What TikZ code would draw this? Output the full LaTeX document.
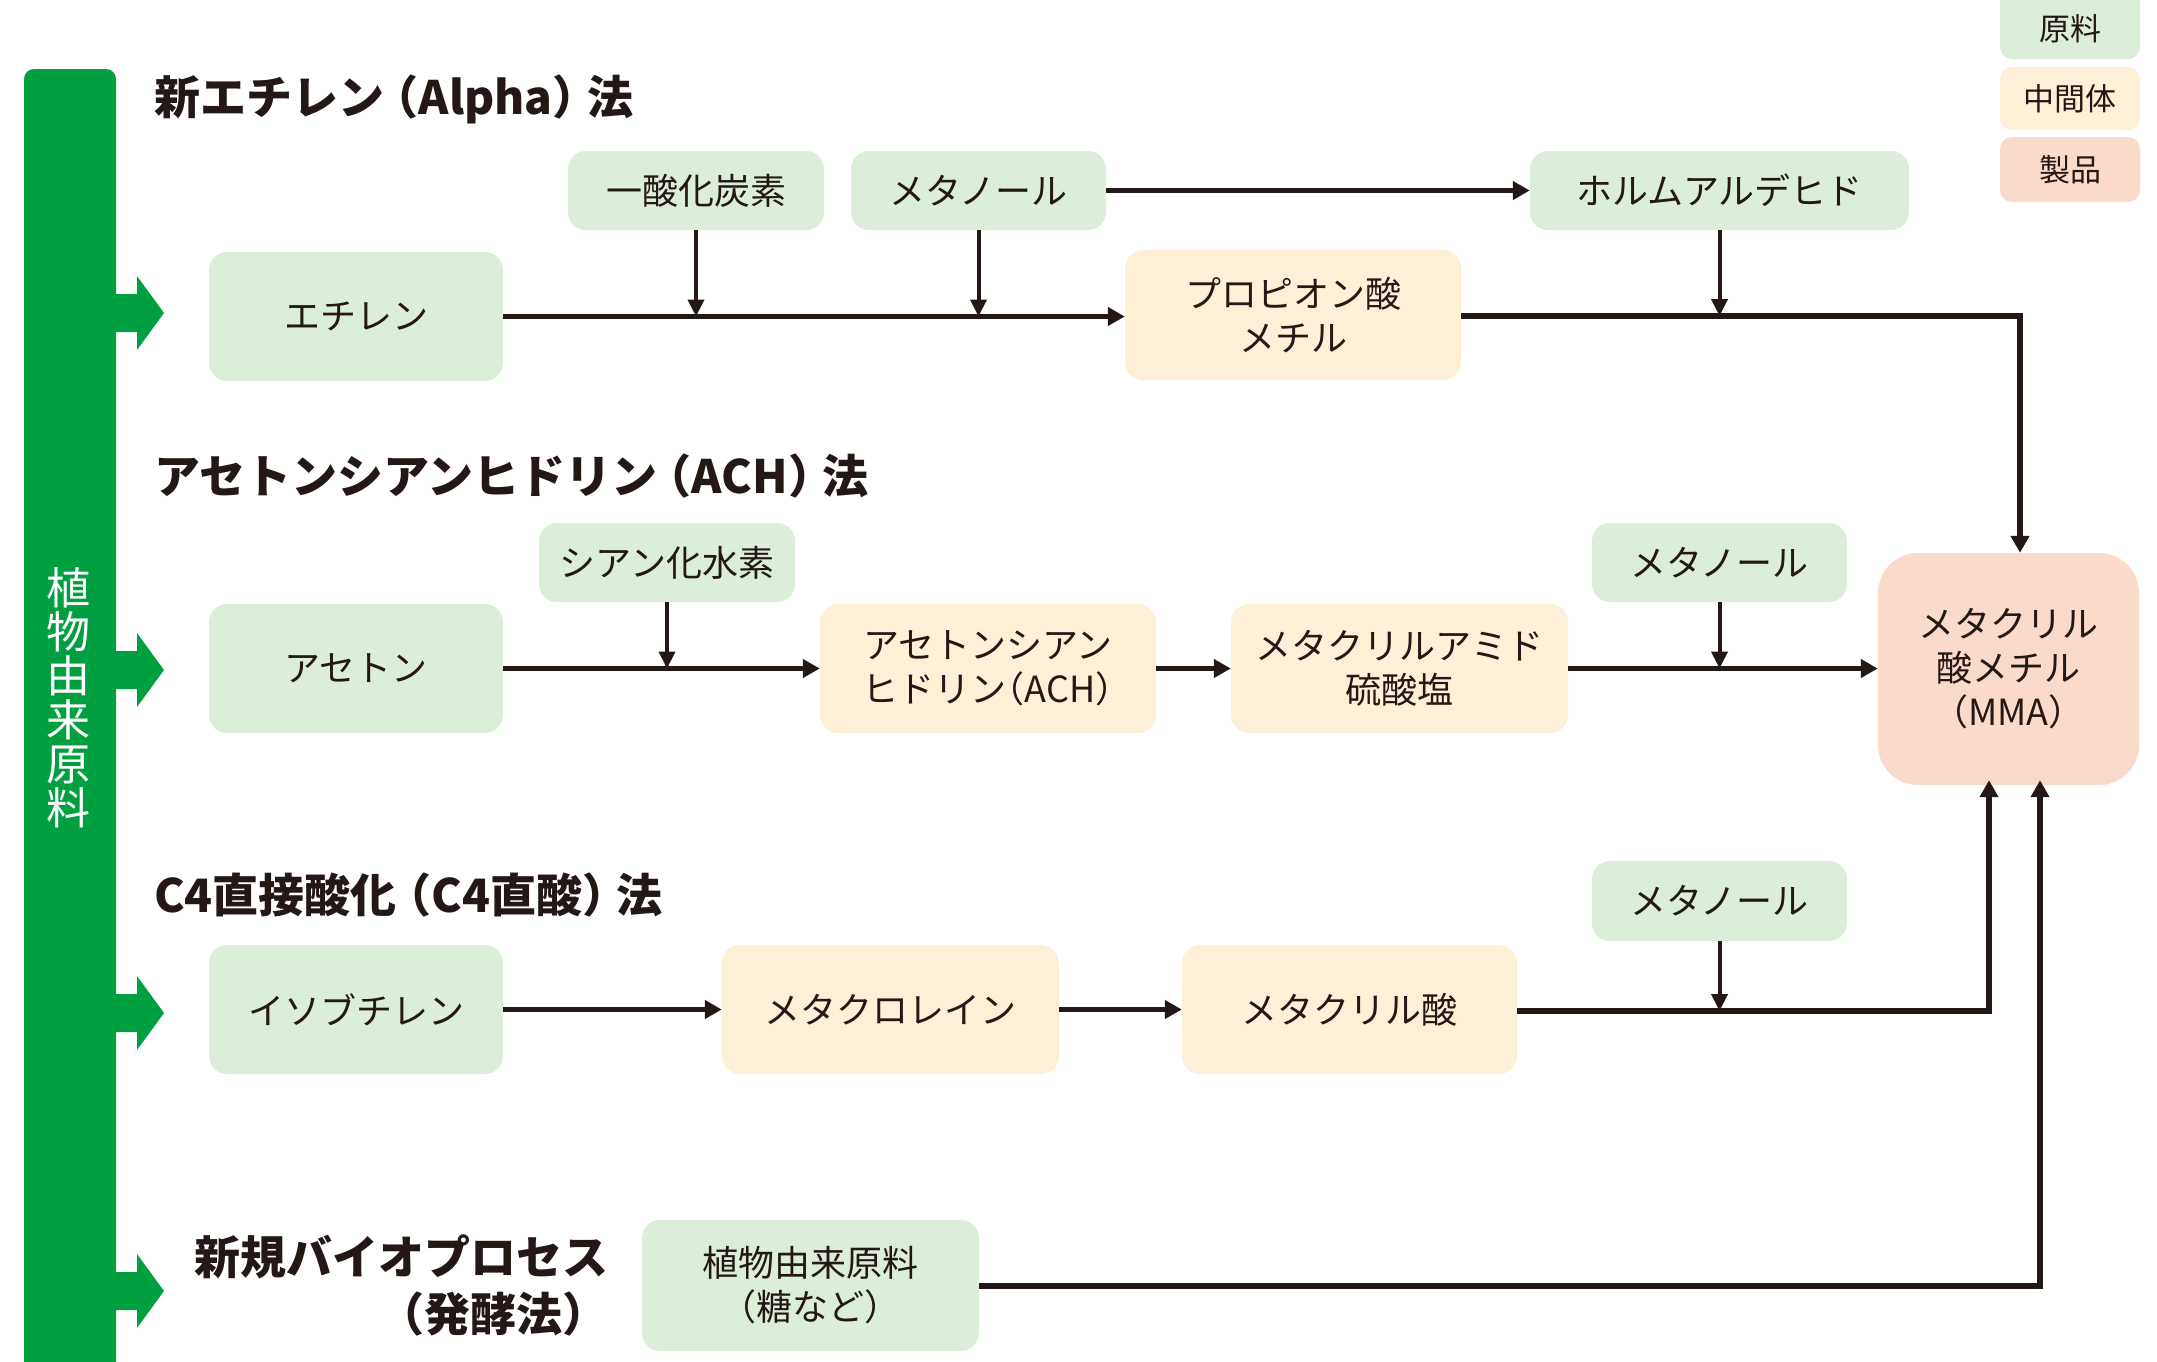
\documentclass[tikz,border=0pt]{standalone}
\usepackage{fontspec}
\setmainfont{Noto Sans CJK JP}
\usetikzlibrary{arrows.meta}
\definecolor{rawg}{HTML}{DCEDD9}
\definecolor{midc}{HTML}{FEF0D6}
\definecolor{prodp}{HTML}{FADACA}
\definecolor{barg}{HTML}{00A040}
\definecolor{ink}{HTML}{231815}
\newcommand\hp[1]{\mbox{\kern-.5em（#1）\kern-.5em}}
\newcommand\tp[1]{\mbox{\kern-.25em（#1）\kern-.25em}}
\begin{document}
\begin{tikzpicture}[x=1pt,y=-1pt,
  box/.style={rounded corners=18pt, inner sep=0pt, align=center,
    font=\fontsize{36}{44}\selectfont, text=ink},
  raw/.style={box, fill=rawg},
  mid/.style={box, fill=midc},
  prod/.style={box, fill=prodp},
  legend/.style={box, rounded corners=12pt, font=\fontsize{31}{36}\selectfont, minimum width=140pt},
  ttl/.style={font=\fontsize{46}{57}\selectfont\bfseries, text=ink, inner sep=0pt},
  flow/.style={draw=ink, line width=5.5pt, -{Triangle[length=17pt,width=18pt]}},
  feed/.style={draw=ink, line width=4pt, -{Triangle[length=17pt,width=16pt]}},
  garrow/.style={fill=barg},
]
\useasboundingbox (0,0) rectangle (2157,1361);

% green bar
\fill[barg, rounded corners=10pt] (24,1420) -- (24,69) -- (116,69) -- (116,1420);
\node[text=white, align=center, inner sep=0pt, font=\fontsize{44}{44}\selectfont] (bartext) at (68,698)
  {植\\物\\由\\来\\原\\料};
\foreach \yy in {313,670,1013,1291}{
  \fill[garrow] (116,\yy-19) -- (137,\yy-19) -- (137,\yy-37) -- (164,\yy) -- (137,\yy+37) -- (137,\yy+19) -- (116,\yy+19) -- cycle;
}

% titles
\node[ttl, anchor=west] (t1) at (154,99) {新エチレン\tp{Alpha}法};
\node[ttl, anchor=west] (t2) at (154,476) {アセトンシアンヒドリン\tp{ACH}法};
\node[ttl, anchor=west] (t3) at (154,895) {C4直接酸化\tp{C4直酸}法};
\node[ttl, anchor=east, align=right] (t4) at (609,1285.5) {新規バイオプロセス\\\mbox{\kern-.5em（発酵法）}};

% legend
\node[legend, fill=rawg, minimum height=80pt] (lg1) at (2070,19) {};
\node[legend, text=ink] (lg1t) at (2070,29) {原料};
\node[legend, fill=midc, minimum height=63pt] (lg2) at (2070,98.5) {中間体};
\node[legend, fill=prodp, minimum height=65pt] (lg3) at (2070,169.5) {製品};

% row 1
\node[raw, minimum width=256pt, minimum height=79pt] (co) at (696,190.5) {一酸化炭素};
\node[raw, minimum width=255pt, minimum height=79pt] (meoh1) at (978.5,190.5) {メタノール};
\node[raw, minimum width=379pt, minimum height=79pt] (hcho) at (1719.5,190.5) {ホルムアルデヒド};
\node[raw, minimum width=294pt, minimum height=129pt] (eth) at (356,316.5) {エチレン};
\node[mid, minimum width=336pt, minimum height=130pt] (mp) at (1293,315) {プロピオン酸\\メチル};

% row 2
\node[raw, minimum width=256pt, minimum height=79pt] (hcn) at (667,562.5) {シアン化水素};
\node[raw, minimum width=294pt, minimum height=129pt] (acetone) at (356,668.5) {アセトン};
\node[mid, minimum width=336pt, minimum height=129pt] (ach) at (988,668.5) {アセトンシアン\\ヒドリン\hp{ACH}};
\node[mid, minimum width=337pt, minimum height=129pt] (maa) at (1399.5,668.5) {メタクリルアミド\\硫酸塩};
\node[raw, minimum width=255pt, minimum height=79pt] (meoh2) at (1719.5,562.5) {メタノール};
\node[prod, rounded corners=40pt, minimum width=261pt, minimum height=232pt] (mma) at (2008.5,669) {メタクリル\\酸メチル\\\hp{MMA}};

% row 3
\node[raw, minimum width=255pt, minimum height=80pt] (meoh3) at (1719.5,901) {メタノール};
\node[raw, minimum width=294pt, minimum height=129pt] (ib) at (356,1009.5) {イソブチレン};
\node[mid, minimum width=337pt, minimum height=129pt] (macr) at (890.5,1009.5) {メタクロレイン};
\node[mid, minimum width=335pt, minimum height=129pt] (mac) at (1349.5,1009.5) {メタクリル酸};

% row 4
\node[raw, minimum width=337pt, minimum height=131pt] (plant) at (810.5,1285.5) {植物由来原料\\\hp{糖など}};

% connectors row 1
\draw[flow] (meoh1.east) -- (hcho.west);
\draw[flow] (eth.east) -- (eth.east -| mp.west);
\draw[feed] (co.south) -- (co.south |- eth.east);
\draw[feed] (meoh1.south) -- (meoh1.south |- eth.east);
\coordinate (r1) at (2020,316);
\draw[flow] (mp.east |- r1) -- (r1) -- (r1 |- mma.north);
\draw[feed] (hcho.south) -- (hcho.south |- r1);

% connectors row 2
\draw[flow] (acetone.east) -- (acetone.east -| ach.west);
\draw[feed] (hcn.south) -- (hcn.south |- acetone.east);
\draw[flow] (ach.east) -- (maa.west);
\draw[flow] (maa.east) -- (maa.east -| mma.west);
\draw[feed] (meoh2.south) -- (meoh2.south |- maa.east);

% connectors row 3
\draw[flow] (ib.east) -- (macr.west);
\draw[flow] (macr.east) -- (mac.west);
\coordinate (r3) at (1989,1011);
\draw[flow] (mac.east |- r3) -- (r3) -- ([yshift=5pt]r3 |- mma.south);
\draw[feed] (meoh3.south) -- (meoh3.south |- r3);

% connectors row 4
\coordinate (r4) at (2040,1286);
\draw[flow] (plant.east |- r4) -- (r4) -- ([yshift=5pt]r4 |- mma.south);
\end{tikzpicture}
\end{document}
